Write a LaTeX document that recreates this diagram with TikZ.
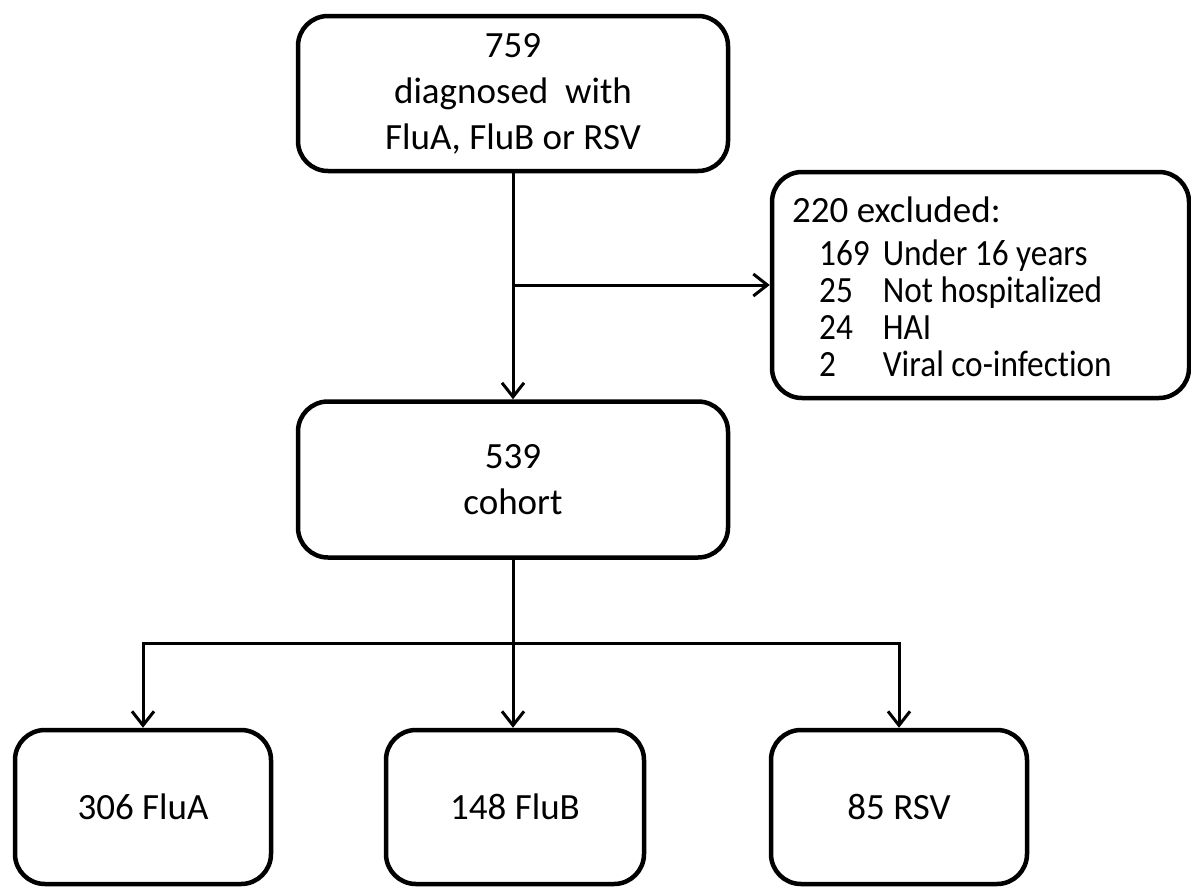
\documentclass[tikz,border=0pt]{standalone}
\usepackage{fontspec}
\setmainfont{Carlito}[Ligatures=NoCommon]
\newfontfamily\narrowfont{Carlito}[FakeStretch=0.9,Ligatures=NoCommon]
\usetikzlibrary{arrows.meta}
\begin{document}
\begin{tikzpicture}[x=1pt,y=-1pt,
  box/.style={draw=black, line width=4.5pt, rounded corners=30pt, fill=white,
    align=center, inner sep=0pt, font=\fontsize{37}{46}\selectfont},
  conn/.style={line width=3pt, draw=black},
  arr/.style={conn, -{Straight Barb[length=14pt,width=22pt,line width=3pt]}}]
\useasboundingbox (0,0) rectangle (1191,886);
\fill[white] (0,0) rectangle (1191,886);
% boxes
\node[box, minimum width=430pt, minimum height=155pt] (top) at (513,93.5)
  {759\\diagnosed\ \ with\\FluA, FluB or RSV};
\node[box, minimum width=417pt, minimum height=226pt] (excl) at (980.5,285) {};
\node[anchor=base west, inner sep=0pt, font=\fontsize{37}{37}\selectfont] (excltext) at (792,222)
  {\begin{tabular}[t]{@{\hspace{27pt}}l@{\hspace{13pt}}l@{}}
   \multicolumn{2}{@{}l@{}}{220 excluded:}\\[6pt]
   \narrowfont 169 & \narrowfont Under 16 years\\
   \narrowfont 25 & \narrowfont Not hospitalized\\
   \narrowfont 24 & \narrowfont HAI\\
   \narrowfont 2 & \narrowfont Viral co-infection
   \end{tabular}};
\node[box, minimum width=430pt, minimum height=156pt] (coh) at (513,479.5)
  {539\\cohort};
\node[box, minimum width=256pt, minimum height=154pt] (flua) at (143,807) {306 FluA};
\node[box, minimum width=258pt, minimum height=154pt] (flub) at (515,807) {148 FluB};
\node[box, minimum width=256pt, minimum height=154pt] (rsv) at (899,807) {85 RSV};
% connectors
\coordinate (branch) at (513,285);
\coordinate (split) at (513,643);
\draw[arr] (top.south -| branch) -- (coh.north -| branch);
\draw[arr] (branch) -- (excl.west);
\draw[conn] (coh.south -| split) -- (split);
\draw[arr] (split) -- (split |- flub.north);
\draw[arr] (split) -| (flua.north);
\draw[arr] (split) -| (rsv.north);
\end{tikzpicture}
\end{document}
